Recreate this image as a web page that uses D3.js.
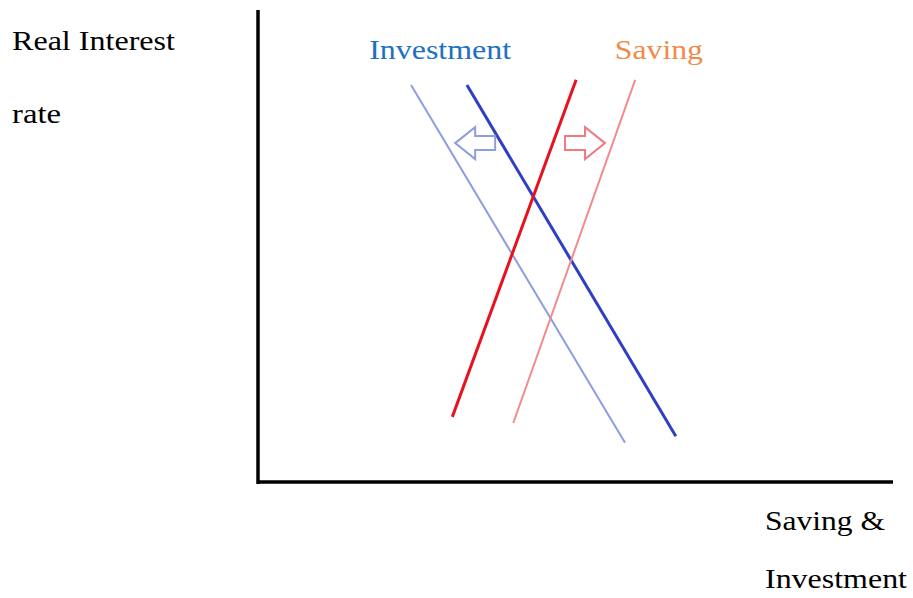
<!DOCTYPE html>
<html><head><meta charset="utf-8">
<script src="https://cdn.jsdelivr.net/npm/d3@7"></script>
<style>body{margin:0;background:#fff}</style></head>
<body><svg id="c" width="913" height="598"></svg>
<script>
const curves = [
  {name:"Investment (shifted)", pts:[[24.1,84.1],[57.8,8.3]], color:"#8e9ce0", w:2},
  {name:"Investment", pts:[[32.9,84.1],[65.8,9.7]], color:"#2f3fc4", w:3},
  {name:"Saving", pts:[[30.6,13.8],[50.1,85.2]], color:"#e8121e", w:3},
  {name:"Saving (shifted)", pts:[[40.2,12.5],[59.4,85.2]], color:"#f28a8e", w:2}
];
const arrows = [
  {pos:[34.2,71.8], dir:-1, color:"#8e9ce0"},
  {pos:[51.5,71.8], dir:1, color:"#f07a80"}
];
const labels = [
  {text:"Investment", pos:[17.5,89.6], color:"#2070c0", len:142},
  {text:"Saving", pos:[56.2,89.6], color:"#f08a4a", len:88}
];
const svg = d3.select("#c");
const x = d3.scaleLinear().domain([0,100]).range([258,893]);
const y = d3.scaleLinear().domain([0,100]).range([482,10]);
const font = "'Liberation Serif','Times New Roman',serif";
svg.append("line").attr("x1",x(0)).attr("x2",x(0)).attr("y1",y(100)).attr("y2",y(0)+2).attr("stroke","#000").attr("stroke-width",3.5);
svg.append("line").attr("x1",x(0)).attr("x2",x(100)).attr("y1",y(0)).attr("y2",y(0)).attr("stroke","#000").attr("stroke-width",3.5);
const line = d3.line().x(d=>x(d[0])).y(d=>y(d[1]));
svg.selectAll("path.c").data(curves).join("path").attr("d",d=>line(d.pts))
  .attr("stroke",d=>d.color).attr("stroke-width",d=>d.w).attr("fill","none");
arrows.forEach(a=>{
  const cx=x(a.pos[0]), cy=y(a.pos[1]), s=a.dir;
  const p=[[-20,-7],[0,-7],[0,-16],[20,0],[0,16],[0,7],[-20,7]].map(q=>[cx+s*q[0],cy+q[1]]);
  svg.append("path").attr("d","M"+p.join("L")+"Z").attr("fill","none").attr("stroke",a.color).attr("stroke-width",2);
});
svg.selectAll("text.l").data(labels).join("text").attr("x",d=>x(d.pos[0])).attr("y",d=>y(d.pos[1]))
  .text(d=>d.text).attr("fill",d=>d.color).attr("font-family",font).attr("font-size",28)
  .attr("textLength",d=>d.len).attr("lengthAdjust","spacingAndGlyphs");
const t=(s,px,py,len)=>svg.append("text").attr("x",px).attr("y",py).text(s).attr("font-family",font).attr("font-size",28).attr("fill","#000")
  .attr("textLength",len).attr("lengthAdjust","spacingAndGlyphs");
t("Real Interest",12,50,163); t("rate",12,123,49); t("Saving &",765,530,120); t("Investment",765,588,142);
</script></body></html>
